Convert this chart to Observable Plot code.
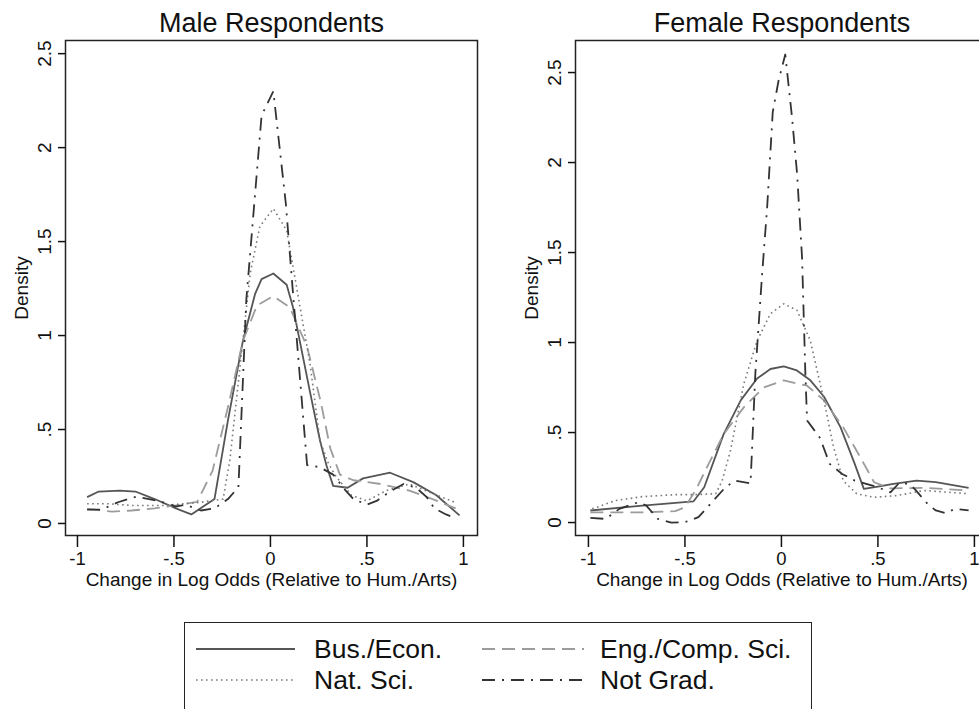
<!DOCTYPE html>
<html><head><meta charset="utf-8">
<script src="https://cdn.jsdelivr.net/npm/d3@7"></script>
<script src="https://cdn.jsdelivr.net/npm/@observablehq/plot@0.6"></script>
<style>
html,body{margin:0;padding:0;background:#fff;overflow:hidden;width:979px;height:709px;}
#root{position:relative;width:979px;height:709px;overflow:hidden;font-family:Arial,"Liberation Sans",Helvetica,sans-serif;}
.panel{position:absolute;top:0;}
.panel svg{max-width:none !important;}
#legend{position:absolute;left:184px;top:622px;width:628px;height:120px;border:1.5px solid #222;box-sizing:border-box;background:#fff;}
</style></head><body>
<div id="root">
  <div id="left" class="panel" style="left:0;width:490px"></div>
  <div id="right" class="panel" style="left:490px;width:510px"></div>
  <div id="legend"></div>
</div>
<script>
// ---------- data ----------
const panelTitles = ["Male Respondents", "Female Respondents"];
const xTitle = "Change in Log Odds (Relative to Hum./Arts)";
const yTitle = "Density";
const xTicks = [-1, -0.5, 0, 0.5, 1];
const xTickLabels = ["-1", "-.5", "0", ".5", "1"];
const yTicks = [0, 0.5, 1, 1.5, 2, 2.5];
const yTickLabels = ["0", ".5", "1", "1.5", "2", "2.5"];
const seriesNames = ["Bus./Econ.", "Eng./Comp. Sci.", "Nat. Sci.", "Not Grad."];

// Male respondents: [x, density]
const maleBusEcon = [[-0.95,0.14],[-0.89,0.17],[-0.78,0.175],[-0.70,0.17],[-0.60,0.13],[-0.49,0.08],[-0.41,0.048],[-0.29,0.13],[-0.22,0.55],[-0.143,0.97],[-0.08,1.22],[-0.046,1.30],[0.015,1.33],[0.084,1.27],[0.117,1.15],[0.205,0.70],[0.257,0.44],[0.29,0.31],[0.325,0.20],[0.40,0.19],[0.48,0.24],[0.62,0.27],[0.74,0.22],[0.86,0.15],[0.98,0.043]];
const maleEngComp = [[-0.95,0.078],[-0.82,0.063],[-0.72,0.069],[-0.60,0.08],[-0.49,0.096],[-0.38,0.115],[-0.30,0.28],[-0.22,0.62],[-0.143,0.97],[-0.07,1.16],[0.015,1.21],[0.10,1.15],[0.19,0.94],[0.26,0.65],[0.31,0.40],[0.36,0.26],[0.43,0.23],[0.57,0.21],[0.72,0.175],[0.84,0.13],[0.96,0.08]];
const maleNatSci = [[-0.95,0.105],[-0.84,0.105],[-0.72,0.096],[-0.55,0.096],[-0.36,0.113],[-0.245,0.13],[-0.21,0.34],[-0.105,1.33],[-0.055,1.58],[0.015,1.675],[0.084,1.56],[0.135,1.26],[0.205,0.85],[0.257,0.44],[0.30,0.32],[0.34,0.25],[0.42,0.15],[0.50,0.12],[0.60,0.175],[0.72,0.21],[0.84,0.16],[0.955,0.113]];
const maleNotGrad = [[-0.95,0.074],[-0.875,0.074],[-0.79,0.113],[-0.695,0.143],[-0.58,0.12],[-0.49,0.09],[-0.44,0.10],[-0.36,0.069],[-0.29,0.08],[-0.22,0.13],[-0.166,0.193],[-0.125,1.19],[-0.046,2.17],[0.015,2.30],[0.08,1.70],[0.115,1.25],[0.19,0.31],[0.255,0.30],[0.325,0.26],[0.39,0.175],[0.43,0.13],[0.50,0.10],[0.55,0.12],[0.62,0.17],[0.69,0.21],[0.755,0.19],[0.81,0.14],[0.85,0.08],[0.91,0.048],[0.955,0.03]];

// Female respondents: [x, density]
const femaleBusEcon = [[-0.99,0.067],[-0.72,0.094],[-0.455,0.118],[-0.40,0.196],[-0.30,0.49],[-0.21,0.68],[-0.126,0.80],[-0.057,0.853],[0.012,0.867],[0.08,0.845],[0.15,0.79],[0.22,0.70],[0.306,0.53],[0.375,0.34],[0.427,0.187],[0.50,0.20],[0.58,0.215],[0.70,0.233],[0.80,0.224],[0.97,0.193]];
const femaleEngComp = [[-0.99,0.057],[-0.72,0.057],[-0.55,0.063],[-0.50,0.085],[-0.445,0.178],[-0.377,0.326],[-0.30,0.49],[-0.195,0.64],[-0.092,0.75],[0.012,0.79],[0.133,0.76],[0.22,0.68],[0.32,0.53],[0.41,0.36],[0.48,0.224],[0.565,0.19],[0.74,0.193],[0.97,0.178]];
const femaleNatSci = [[-0.98,0.076],[-0.86,0.122],[-0.72,0.144],[-0.55,0.155],[-0.445,0.155],[-0.34,0.16],[-0.307,0.233],[-0.264,0.40],[-0.195,0.77],[-0.126,1.01],[-0.057,1.16],[0.012,1.215],[0.08,1.18],[0.15,1.01],[0.22,0.68],[0.27,0.42],[0.32,0.233],[0.39,0.16],[0.48,0.14],[0.60,0.15],[0.74,0.178],[0.97,0.16]];
const femaleNotGrad = [[-0.99,0.026],[-0.91,0.02],[-0.84,0.076],[-0.74,0.113],[-0.70,0.094],[-0.64,0.02],[-0.57,0.0],[-0.50,0.002],[-0.43,0.03],[-0.36,0.113],[-0.29,0.196],[-0.24,0.233],[-0.16,0.218],[-0.135,0.83],[-0.10,1.38],[-0.074,1.75],[-0.045,2.28],[-0.014,2.46],[0.02,2.60],[0.055,2.25],[0.081,1.94],[0.107,1.47],[0.124,0.83],[0.133,0.567],[0.20,0.47],[0.25,0.326],[0.315,0.27],[0.38,0.233],[0.49,0.20],[0.565,0.168],[0.61,0.22],[0.66,0.215],[0.69,0.187],[0.76,0.10],[0.80,0.067],[0.85,0.052],[0.90,0.076],[0.97,0.067]];

// ---------- styles ----------
const FONT = 'Arial, "Liberation Sans", Helvetica, sans-serif';
const seriesStyle = [
  {stroke: "#555555", strokeWidth: 1.8, strokeDasharray: null},
  {stroke: "#9c9c9c", strokeWidth: 1.8, strokeDasharray: "13,7"},
  {stroke: "#7a7a7a", strokeWidth: 1.6, strokeDasharray: "1.6,3.4"},
  {stroke: "#333333", strokeWidth: 1.8, strokeDasharray: "13,7,2,7"}
];
const xLab = new Map(xTicks.map((t, i) => [t, xTickLabels[i]]));
const yLab = new Map(yTicks.map((t, i) => [t, yTickLabels[i]]));

function panel({title, series, xDomain, yDomain, width, marginLeft, marginRight}) {
  const height = 600;
  const lines = series.map((data, i) => Plot.line(data, {
    x: d => d[0], y: d => d[1],
    stroke: seriesStyle[i].stroke,
    strokeWidth: seriesStyle[i].strokeWidth,
    strokeDasharray: seriesStyle[i].strokeDasharray,
    strokeLinecap: "butt", strokeLinejoin: "round", curve: "linear"
  }));
  return Plot.plot({
    width, height, marginLeft, marginRight, marginTop: 40, marginBottom: height - 535,
    x: {domain: xDomain},
    y: {domain: yDomain},
    style: {fontFamily: FONT, fontSize: "18.5px", color: "#111", background: "white", overflow: "visible"},
    marks: [
      ...lines,
      Plot.frame({stroke: "#222", strokeWidth: 1.5}),
      Plot.axisX({ticks: xTicks, tickSize: 12, tickPadding: 4, strokeWidth: 1.5, fontSize: 18.5, tickFormat: d => xLab.get(d), label: null}),
      Plot.axisY({ticks: yTicks, tickSize: 7, tickPadding: 8, tickRotate: -90, strokeWidth: 1.5, fontSize: 19, tickFormat: d => yLab.get(d), label: null}),
      Plot.text([title], {text: d => d, frameAnchor: "top", dy: -9, lineAnchor: "bottom", fontSize: 27, fill: "#111"}),
      Plot.text([xTitle], {text: d => d, frameAnchor: "bottom", dy: 50, lineAnchor: "bottom", fontSize: 19, fill: "#111"}),
      Plot.text([yTitle], {text: d => d, frameAnchor: "left", dx: -38, rotate: -90, lineAnchor: "bottom", textAnchor: "middle", fontSize: 19, fill: "#111"})
    ]
  });
}

document.getElementById("left").appendChild(panel({
  title: panelTitles[0],
  series: [maleBusEcon, maleEngComp, maleNatSci, maleNotGrad],
  xDomain: [-1.062, 1.073], yDomain: [-0.064, 2.57],
  width: 490, marginLeft: 65, marginRight: 13
}));
document.getElementById("right").appendChild(panel({
  title: panelTitles[1],
  series: [femaleBusEcon, femaleEngComp, femaleNatSci, femaleNotGrad],
  xDomain: [-1.067, 1.073], yDomain: [-0.072, 2.678],
  width: 510, marginLeft: 85, marginRight: 12
}));

// ---------- legend ----------
const legendPos = [
  {lx1: 11, lx2: 110, tx: 129, ly: 26, ty: 35},
  {lx1: 297, lx2: 399, tx: 415, ly: 26, ty: 35},
  {lx1: 11, lx2: 110, tx: 129, ly: 57, ty: 66},
  {lx1: 297, lx2: 399, tx: 415, ly: 57, ty: 66}
];
const ns = "http://www.w3.org/2000/svg";
const lsvg = document.createElementNS(ns, "svg");
lsvg.setAttribute("width", 626); lsvg.setAttribute("height", 118);
lsvg.style.display = "block";
seriesNames.forEach((name, i) => {
  const p = legendPos[i], s = seriesStyle[i];
  const ln = document.createElementNS(ns, "line");
  ln.setAttribute("x1", p.lx1); ln.setAttribute("x2", p.lx2);
  ln.setAttribute("y1", p.ly); ln.setAttribute("y2", p.ly);
  ln.setAttribute("stroke", s.stroke); ln.setAttribute("stroke-width", s.strokeWidth);
  if (s.strokeDasharray) ln.setAttribute("stroke-dasharray", s.strokeDasharray);
  lsvg.appendChild(ln);
  const tx = document.createElementNS(ns, "text");
  tx.setAttribute("x", p.tx); tx.setAttribute("y", p.ty);
  tx.setAttribute("font-family", FONT); tx.setAttribute("font-size", "26.5");
  tx.setAttribute("fill", "#111");
  tx.textContent = name;
  lsvg.appendChild(tx);
});
document.getElementById("legend").appendChild(lsvg);
</script>
</body></html>
